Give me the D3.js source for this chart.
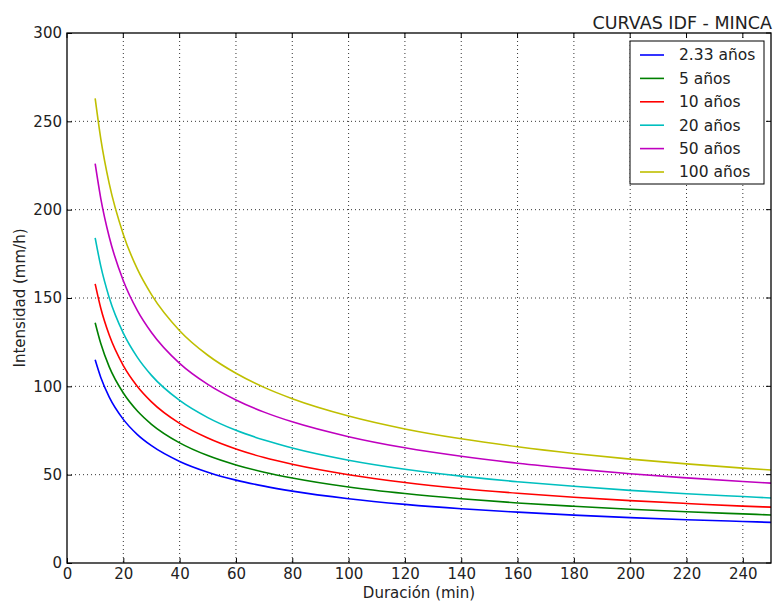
<!doctype html>
<html>
<head>
<meta charset="utf-8">
<title>CURVAS IDF - MINCA</title>
<script src="https://d3js.org/d3.v7.min.js"></script>
<style>
  body { margin: 0; background: #fff; }
  svg { font-family: "DejaVu Sans", sans-serif; }
</style>
</head>
<body>
<script>
// duration (min) sampled along the curves
var duraciones = [10, 12, 15, 20, 25, 30, 40, 50, 60, 70, 80, 100, 120, 140, 160, 180, 200, 220, 240, 250];

// intensity (mm/h)
var t2_33 = [115, 105.0, 93.9, 81.3, 72.7, 66.4, 57.5, 51.4, 46.9, 43.5, 40.7, 36.4, 33.2, 30.7, 28.8, 27.1, 25.7, 24.5, 23.5, 23.0];
var t5    = [136, 124.2, 111.0, 96.2, 86.0, 78.5, 68.0, 60.8, 55.5, 51.4, 48.1, 43.0, 39.3, 36.4, 34.0, 32.1, 30.4, 29.0, 27.8, 27.2];
var t10   = [158, 144.2, 129.0, 111.7, 99.9, 91.2, 79.0, 70.7, 64.5, 59.7, 55.9, 50.0, 45.6, 42.2, 39.5, 37.2, 35.3, 33.7, 32.2, 31.6];
var t20   = [184, 168.0, 150.2, 130.1, 116.4, 106.2, 92.0, 82.3, 75.1, 69.6, 65.1, 58.2, 53.1, 49.2, 46.0, 43.4, 41.1, 39.2, 37.6, 36.8];
var t50   = [226, 206.3, 184.5, 159.8, 142.9, 130.5, 113.0, 101.1, 92.3, 85.4, 79.9, 71.5, 65.2, 60.4, 56.5, 53.3, 50.5, 48.2, 46.1, 45.2];
var t100  = [263, 240.1, 214.7, 186.0, 166.3, 151.9, 131.5, 117.6, 107.4, 99.4, 93.0, 83.2, 75.9, 70.3, 65.8, 62.0, 58.8, 56.1, 53.7, 52.6];

var nombres = ["2.33 años", "5 años", "10 años", "20 años", "50 años", "100 años"];
var colores = ["#0000ff", "#008000", "#ff0000", "#00bfbf", "#bf00bf", "#bfbf00"];
var xTicks = [0, 20, 40, 60, 80, 100, 120, 140, 160, 180, 200, 220, 240];
var yTicks = [0, 50, 100, 150, 200, 250, 300];

var series = [t2_33, t5, t10, t20, t50, t100].map(function(v, i) {
    return { nombre: nombres[i], color: colores[i], values: v };
});

var width = 774, height = 603;
var margin = { top: 33, right: 3, bottom: 40, left: 67 };
var w = width - margin.left - margin.right;
var h = height - margin.top - margin.bottom;

var svg = d3.select("body").append("svg")
    .attr("width", width)
    .attr("height", height);

var g = svg.append("g")
    .attr("transform", "translate(" + margin.left + "," + margin.top + ")");

var x = d3.scaleLinear().domain([0, 250]).range([0, w]);
var y = d3.scaleLinear().domain([0, 300]).range([h, 0]);

// grid
g.append("g").selectAll("line")
    .data(xTicks.filter(function(d) { return d > 0; }))
    .enter().append("line")
    .attr("x1", function(d) { return x(d); })
    .attr("x2", function(d) { return x(d); })
    .attr("y1", 0).attr("y2", h)
    .attr("stroke", "#000").attr("stroke-width", 0.8)
    .attr("stroke-dasharray", "1,3");

g.append("g").selectAll("line")
    .data(yTicks.filter(function(d) { return d > 0 && d < 300; }))
    .enter().append("line")
    .attr("x1", 0).attr("x2", w)
    .attr("y1", function(d) { return y(d); })
    .attr("y2", function(d) { return y(d); })
    .attr("stroke", "#000").attr("stroke-width", 0.8)
    .attr("stroke-dasharray", "1,3");

// axes (ticks pointing inward)
var xAxis = g.append("g")
    .attr("transform", "translate(0," + h + ")")
    .call(d3.axisBottom(x).tickValues(xTicks).tickSizeInner(-5).tickSizeOuter(0).tickPadding(5));
var yAxis = g.append("g")
    .call(d3.axisLeft(y).tickValues(yTicks).tickSizeInner(-5).tickSizeOuter(0).tickPadding(5));
[xAxis, yAxis].forEach(function(a) {
    a.select(".domain").remove();
    a.selectAll("text").attr("font-size", 15).attr("fill", "#222")
        .attr("font-family", "DejaVu Sans, sans-serif");
    a.selectAll("line").attr("stroke", "#000");
});

// top / right ticks
g.append("g").selectAll("line").data(xTicks).enter().append("line")
    .attr("x1", function(d) { return x(d); }).attr("x2", function(d) { return x(d); })
    .attr("y1", 0).attr("y2", 5).attr("stroke", "#000");
g.append("g").selectAll("line").data(yTicks).enter().append("line")
    .attr("x1", w).attr("x2", w - 5)
    .attr("y1", function(d) { return y(d); }).attr("y2", function(d) { return y(d); })
    .attr("stroke", "#000");

// curves
var line = d3.line()
    .x(function(d, i) { return x(duraciones[i]); })
    .y(function(d) { return y(d); })
    .curve(d3.curveMonotoneX);

g.selectAll(".curva")
    .data(series)
    .enter().append("path")
    .attr("class", "curva")
    .attr("d", function(s) { return line(s.values); })
    .attr("fill", "none")
    .attr("stroke", function(s) { return s.color; })
    .attr("stroke-width", 1.6);

// frame
g.append("rect")
    .attr("width", w).attr("height", h)
    .attr("fill", "none").attr("stroke", "#000").attr("stroke-width", 1.3);

// legend
var lg = svg.append("g").attr("transform", "translate(630,41)");
lg.append("rect")
    .attr("width", 134).attr("height", 143)
    .attr("fill", "#fff").attr("stroke", "#000").attr("stroke-width", 1);
var item = lg.selectAll(".item").data(series).enter().append("g")
    .attr("transform", function(d, i) { return "translate(0," + (14 + i * 23.4) + ")"; });
item.append("line")
    .attr("x1", 10).attr("x2", 34)
    .attr("stroke", function(d) { return d.color; })
    .attr("stroke-width", 1.6);
item.append("text")
    .attr("x", 49).attr("dy", "0.35em")
    .attr("font-size", 15.5).attr("fill", "#222")
    .text(function(d) { return d.nombre; });

// title and axis labels
svg.append("text")
    .attr("x", 772).attr("y", 29)
    .attr("text-anchor", "end")
    .attr("font-size", 17.5).attr("fill", "#222")
    .text("CURVAS IDF - MINCA");

svg.append("text")
    .attr("x", margin.left + w / 2).attr("y", 598)
    .attr("text-anchor", "middle")
    .attr("font-size", 15).attr("fill", "#222")
    .text("Duración (min)");

svg.append("text")
    .attr("transform", "translate(25," + (margin.top + h / 2) + ") rotate(-90)")
    .attr("text-anchor", "middle")
    .attr("font-size", 15).attr("fill", "#222")
    .text("Intensidad (mm/h)");
</script>
</body>
</html>
